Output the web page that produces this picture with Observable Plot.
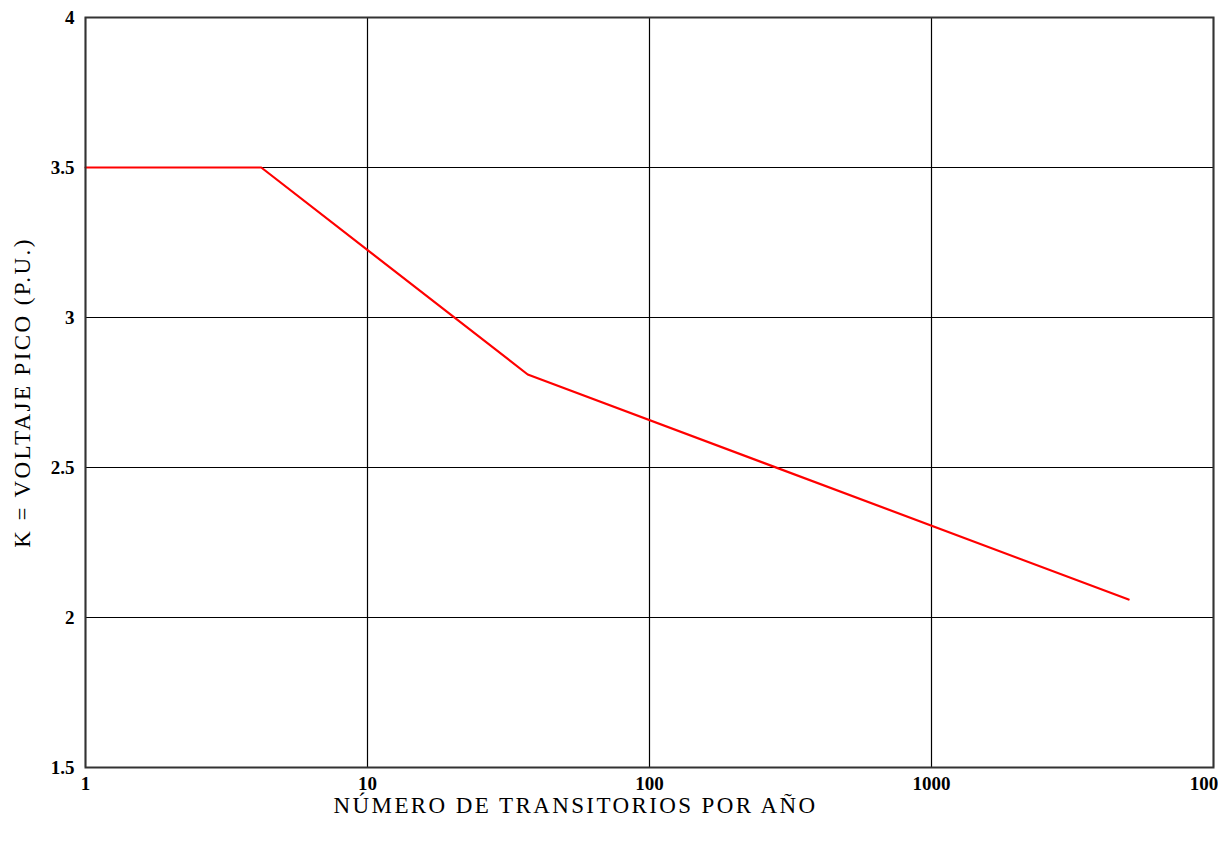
<!DOCTYPE html>
<html>
<head>
<meta charset="utf-8">
<script src="https://cdn.jsdelivr.net/npm/d3@7"></script>
<script src="https://cdn.jsdelivr.net/npm/@observablehq/plot@0.6"></script>
<style>
  html, body { margin: 0; padding: 0; background: #fff; }
  #chart svg { display: block; background: #fff; }
  #chart .axis-title text { letter-spacing: 2.4px; }
</style>
</head>
<body>
<div id="chart"></div>
<script>
const transients = [1, 4.2, 37, 5000];
const peakK = [3.5, 3.5, 2.81, 2.06];
const xTicks = [1, 10, 100, 1000, 10000];
const xTickLabels = ["1", "10", "100", "1000", "10000"];
const yTicks = [1.5, 2, 2.5, 3, 3.5, 4];
const yTickLabels = ["1.5", "2", "2.5", "3", "3.5", "4"];
const xTitle = "NÚMERO DE TRANSITORIOS POR AÑO";
const yTitle = "K = VOLTAJE PICO (P.U.)";

const data = transients.map((x, i) => ({x, y: peakK[i]}));
const serif = "'Liberation Serif', 'DejaVu Serif', serif";

const chart = Plot.plot({
  width: 1218,
  height: 845,
  marginLeft: 85,
  marginRight: 5,
  marginTop: 17,
  marginBottom: 78,
  style: {fontFamily: serif, background: "#fff"},
  x: {type: "log", domain: [1, 10000], ticks: xTicks},
  y: {domain: [1.5, 4], ticks: yTicks},
  marks: [
    Plot.gridX(xTicks, {stroke: "#000", strokeOpacity: 1, strokeWidth: 1.2}),
    Plot.gridY(yTicks, {stroke: "#000", strokeOpacity: 1, strokeWidth: 1.2}),
    Plot.axisX(xTicks, {tickSize: 0, tickPadding: 9, fill: "#000",
      tickFormat: (d) => xTickLabels[xTicks.indexOf(d)], label: null}),
    Plot.axisY(yTicks, {tickSize: 0, tickPadding: 11, fill: "#000",
      tickFormat: (d) => yTickLabels[yTicks.indexOf(d)], label: null}),
    Plot.line(data, {x: "x", y: "y", stroke: "#ff0000", strokeWidth: 2.2}),
    Plot.frame({stroke: "#333", strokeWidth: 2}),
    Plot.text([xTitle], {frameAnchor: "bottom", textAnchor: "middle", lineAnchor: "middle", dy: 38, dx: -74,
      fontSize: 23, fill: "#000", fontFamily: serif, className: "axis-title"}),
    Plot.text([yTitle], {frameAnchor: "left", textAnchor: "middle", lineAnchor: "middle", dx: -63, rotate: -90,
      fontSize: 23, fill: "#000", fontFamily: serif, className: "axis-title"})
  ]
});
d3.select(chart).selectAll("text").each(function() {
  if (!this.closest(".axis-title")) {
    d3.select(this).style("font-size", "19px").style("font-weight", "bold");
  }
});
document.getElementById("chart").appendChild(chart);
</script>
</body>
</html>
